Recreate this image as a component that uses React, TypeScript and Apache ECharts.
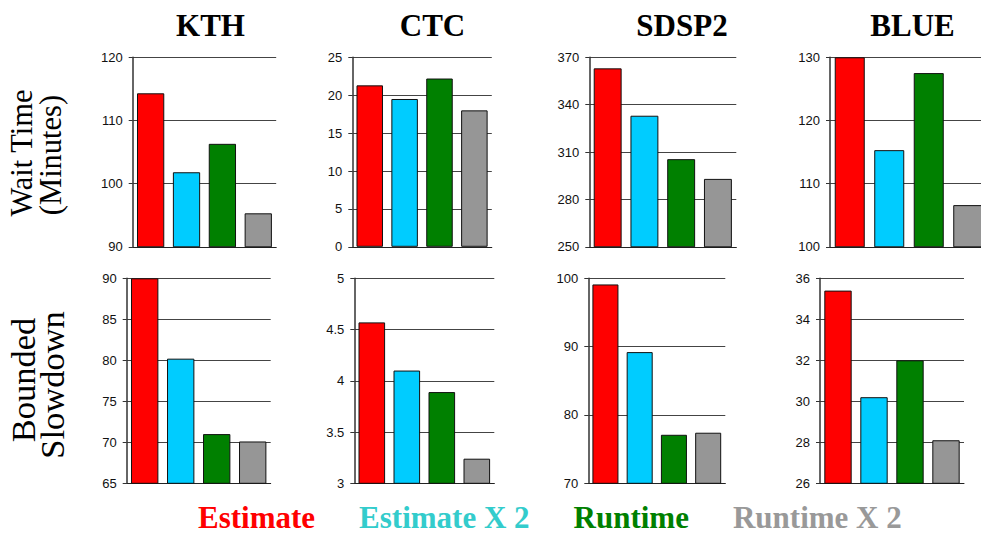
import React, { useEffect, useRef } from "react";
import * as echarts from "echarts";

// Scheduling policies compared in every panel
const POLICIES = ["Estimate", "Estimate X 2", "Runtime", "Runtime X 2"];
const SYSTEMS = ["KTH", "CTC", "SDSP2", "BLUE"];

// Average wait time (minutes)
const WAIT_KTH = [114.3, 101.8, 106.3, 95.3];
const WAIT_CTC = [21.3, 19.5, 22.2, 18.0];
const WAIT_SDSP2 = [363, 333, 305.5, 293];
const WAIT_BLUE = [130, 115.3, 127.5, 106.6];

// Bounded slowdown
const BSLD_KTH = [90, 80.2, 71.0, 70.1];
const BSLD_CTC = [4.57, 4.1, 3.89, 3.24];
const BSLD_SDSP2 = [99.1, 89.2, 77.1, 77.4];
const BSLD_BLUE = [35.4, 30.2, 32.0, 28.1];

// Y-axis ranges [min, max, interval]
const WAIT_AXES = [
  [90, 120, 10],
  [0, 25, 5],
  [250, 370, 30],
  [100, 130, 10],
];
const BSLD_AXES = [
  [65, 90, 5],
  [3, 5, 0.5],
  [70, 100, 10],
  [26, 36, 2],
];

const BAR_COLORS = ["#FF0000", "#00CCFF", "#008000", "#969696"];
const LEGEND_COLORS = ["#FF0000", "#33CCCC", "#008000", "#999999"];

// Plot rectangles: [left, top, width, height]
const GRID_BOXES = [
  [132.7, 57.3, 143.5, 189.5],
  [352.3, 57.3, 139.5, 189.5],
  [589.3, 57.3, 147, 189.5],
  [830, 57.3, 158, 189.5],
  [126.7, 278.3, 144, 205],
  [354.3, 278.3, 140, 205],
  [588.3, 278.3, 137, 205],
  [820, 278.3, 144, 205],
];
const TITLE_X = [210.5, 432.5, 682, 912.5];

const SERIF = "'Liberation Serif', 'Times New Roman', serif";
const SANS = "'Liberation Sans', Arial, sans-serif";

export default function App() {
  const ref = useRef<HTMLDivElement>(null);

  useEffect(() => {
    if (!ref.current) return;
    const chart = echarts.init(ref.current, undefined, { renderer: "svg" });

    const panelValues = [
      WAIT_KTH, WAIT_CTC, WAIT_SDSP2, WAIT_BLUE,
      BSLD_KTH, BSLD_CTC, BSLD_SDSP2, BSLD_BLUE,
    ];
    const panelAxes = [...WAIT_AXES, ...BSLD_AXES];

    const grid = GRID_BOXES.map(([left, top, width, height]) => ({
      left, top, width, height, containLabel: false,
    }));

    const xAxis = GRID_BOXES.map((_, i) => ({
      type: "category",
      gridIndex: i,
      data: POLICIES,
      axisLine: { show: true, lineStyle: { color: "#222", width: 1 } },
      axisTick: { show: false },
      axisLabel: { show: false },
      splitLine: { show: false },
    }));

    const yAxis = panelAxes.map(([min, max, interval], i) => ({
      type: "value",
      gridIndex: i,
      min, max, interval,
      axisLine: { show: true, lineStyle: { color: "#333", width: 1.5 } },
      axisTick: { show: true, length: 4, lineStyle: { color: "#333" } },
      axisLabel: {
        margin: 10,
        fontFamily: SANS,
        fontSize: 13,
        color: "#111",
      },
      splitLine: { show: true, lineStyle: { color: "#444", width: 1 } },
    }));

    const series: any[] = [];
    panelValues.forEach((vals, g) => {
      POLICIES.forEach((name, c) => {
        series.push({
          type: "bar",
          name,
          xAxisIndex: g,
          yAxisIndex: g,
          barWidth: "76%",
          barGap: "-100%",
          itemStyle: {
            color: BAR_COLORS[c],
            borderColor: "#111",
            borderWidth: 1,
          },
          data: POLICIES.map((_, k) => (k === c ? vals[c] : "-")),
        });
      });
    });

    const graphic: any[] = [
      ...SYSTEMS.map((s, i) => ({
        type: "text",
        x: TITLE_X[i],
        y: 25,
        style: {
          text: s,
          font: `bold 31px ${SERIF}`,
          fill: "#000",
          textAlign: "center",
          textVerticalAlign: "middle",
        },
      })),
      { label: "Wait Time", x: 22, y: 153, size: 30.5 },
      { label: "(Minutes)", x: 51, y: 155, size: 30.5 },
      { label: "Bounded", x: 23, y: 380, size: 34.5 },
      { label: "Slowdown", x: 52, y: 385, size: 34.5 },
    ].map((g: any) =>
      g.label
        ? {
            type: "text",
            x: g.x,
            y: g.y,
            rotation: Math.PI / 2,
            style: {
              text: g.label,
              font: `${g.size}px ${SERIF}`,
              fill: "#000",
              textAlign: "center",
              textVerticalAlign: "middle",
            },
          }
        : g
    );

    chart.setOption({
      animation: false,
      backgroundColor: "#fff",
      grid,
      xAxis,
      yAxis,
      series,
      graphic,
      legend: {
        left: 192,
        top: 502,
        padding: 0,
        itemGap: 38,
        itemWidth: 0,
        itemHeight: 0,
        selectedMode: false,
        textStyle: {
          fontFamily: SERIF,
          fontSize: 31,
          fontWeight: "bold",
          lineHeight: 28,
        },
        data: POLICIES.map((name, i) => ({
          name,
          textStyle: { color: LEGEND_COLORS[i] },
        })),
      },
    });

    return () => chart.dispose();
  }, []);

  // The chart surface is a little wider than the window so the last
  // panel's plot area can run past the right edge.
  return (
    <div
      ref={ref}
      style={{ position: "fixed", left: 0, top: 0, width: 1000, height: 534 }}
    />
  );
}
